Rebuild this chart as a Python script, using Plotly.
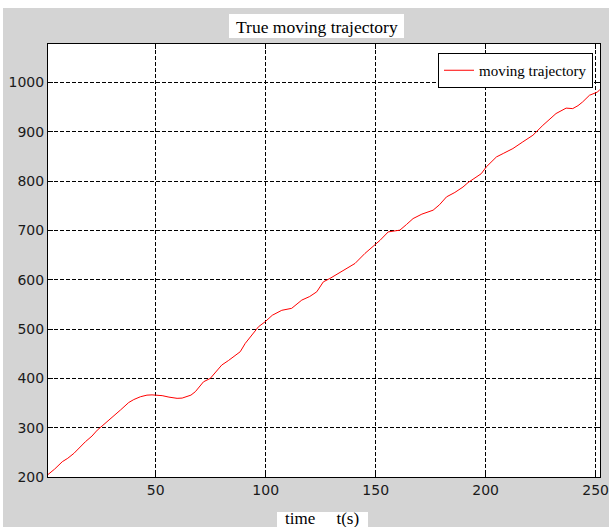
import plotly.graph_objects as go

# Data
t_values = [1, 4, 7.5, 10, 12.8, 15, 18, 21, 23.4, 26, 29.4, 32, 34, 37.7, 40, 43,
            46, 48.3, 52.9, 56, 59.7, 62, 64.2, 66, 68, 70, 71.7, 74.8, 77, 80, 83,
            85.3, 88.4, 90.7, 93, 96.7, 99.7, 103, 107.3, 111.8, 116.4, 120, 123.2,
            126.2, 129.2, 132, 135.3, 140.6, 145.1, 149.6, 152, 155.7, 158, 161, 164,
            167, 171, 176.1, 179, 182.2, 186, 189.7, 192, 195.8, 198, 200.3, 204.9,
            208, 212.4, 216.9, 221.5, 226, 229, 232, 236.6, 239.6, 242, 244.1, 247.2,
            250.9, 252]
traj_values = [205, 216, 231, 238, 248, 258, 271.5, 283, 295, 305, 319, 328, 336, 351,
               357, 362.7, 366, 366.5, 365, 362, 359.5, 360, 362.7, 366, 373, 385, 393,
               400, 412, 427, 436, 443.8, 454, 471, 484, 504.6, 514.7, 528, 538, 542,
               558.7, 566, 575.5, 595.7, 602.6, 610, 619.5, 633, 653.3, 670, 680, 697,
               699, 700.5, 712, 724, 733, 741, 752, 768, 777, 788, 797, 808.5, 815,
               828.8, 849, 856, 866, 879.5, 893, 913, 925, 937, 948, 947, 953, 960.5,
               974, 980.7, 986]
x_ticks = [50, 100, 150, 200, 250]
y_ticks = [200, 300, 400, 500, 600, 700, 800, 900, 1000]
title_text = "True moving trajectory"
xlabel_text = "time\u00a0\u00a0\u00a0\u00a0\u00a0t(s)"
series_name = "moving trajectory"

W, H = 609, 527
L, R, T, B = 48, 9, 44, 50
PW, PH = W - L - R, H - T - B


def px_x(p):
    return (p - L) / PW


def px_y(p):
    return (H - B - p) / PH


fig = go.Figure()
fig.add_trace(go.Scatter(x=t_values, y=traj_values, mode="lines", name=series_name,
                         line=dict(color="#ff0000", width=1)))

axis_common = dict(showline=True, linecolor="black", linewidth=1, mirror="ticks",
                   ticks="inside", ticklen=5, tickcolor="black",
                   showgrid=True, gridcolor="black", gridwidth=1, griddash="4px,2px",
                   zeroline=False, automargin=False,
                   tickfont=dict(family="DejaVu Sans", size=14, color="#1a1a1a"))

fig.update_xaxes(range=[1, 252], tickvals=x_ticks, **axis_common)
fig.update_yaxes(range=[200, 1078], tickvals=y_ticks, **axis_common)

shapes = [
    # white outer border (top and left)
    dict(type="rect", xref="paper", yref="paper", x0=px_x(0), x1=px_x(W), y0=px_y(8), y1=px_y(0),
         fillcolor="white", line=dict(width=0), layer="below"),
    dict(type="rect", xref="paper", yref="paper", x0=px_x(0), x1=px_x(3), y0=px_y(H), y1=px_y(0),
         fillcolor="white", line=dict(width=0), layer="below"),
    # title box
    dict(type="rect", xref="paper", yref="paper", x0=px_x(229), x1=px_x(404), y0=px_y(38), y1=px_y(14),
         fillcolor="white", line=dict(width=0), layer="below"),
    # xlabel box
    dict(type="rect", xref="paper", yref="paper", x0=px_x(277), x1=px_x(368), y0=px_y(H + 2), y1=px_y(512),
         fillcolor="white", line=dict(width=0), layer="below"),
]

annotations = [
    dict(text=title_text, xref="paper", yref="paper", x=px_x(316.5), y=px_y(26.5),
         showarrow=False, xanchor="center", yanchor="middle",
         font=dict(family="Liberation Serif", size=17.5, color="black")),
    dict(text=xlabel_text, xref="paper", yref="paper", x=px_x(322), y=px_y(518),
         showarrow=False, xanchor="center", yanchor="middle",
         font=dict(family="Liberation Serif", size=17, color="black")),
]

fig.update_layout(
    width=W, height=H,
    margin=dict(l=L, r=R, t=T, b=B, pad=0, autoexpand=False),
    paper_bgcolor="#d4d4d4", plot_bgcolor="white",
    shapes=shapes, annotations=annotations,
    showlegend=True,
    legend=dict(x=px_x(593), y=px_y(53), xanchor="right", yanchor="top",
                bgcolor="white", bordercolor="black", borderwidth=1,
                font=dict(family="Liberation Serif", size=15, color="black"),
                itemwidth=30),
)

fig.write_html("out.html", config={"displayModeBar": False},
               post_script="document.body.style.margin='0';document.body.style.overflow='hidden';")
